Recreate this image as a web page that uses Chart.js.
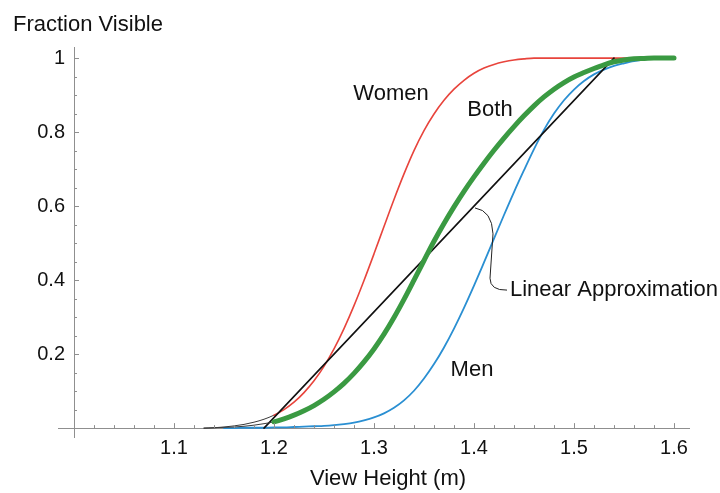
<!DOCTYPE html>
<html>
<head>
<meta charset="utf-8">
<script src="https://cdn.jsdelivr.net/npm/chart.js@4.4.1/dist/chart.umd.min.js"></script>
<style>
  html, body { margin: 0; padding: 0; background: #fff; }
  #wrap { width: 720px; height: 493px; position: relative; }
</style>
</head>
<body>
<div id="wrap"><canvas id="chart"></canvas></div>
<script>
// view height (m), shared by the three curves
const heights = [
  1.13, 1.14, 1.15, 1.16, 1.17, 1.18, 1.19, 1.20, 1.21, 1.22, 1.23, 1.24,
  1.25, 1.26, 1.27, 1.28, 1.29, 1.30, 1.31, 1.32, 1.33, 1.34, 1.35, 1.36,
  1.37, 1.38, 1.39, 1.40, 1.41, 1.42, 1.43, 1.44, 1.45, 1.46, 1.47, 1.48,
  1.49, 1.50, 1.51, 1.52, 1.53, 1.54, 1.55, 1.56, 1.57, 1.58, 1.59, 1.60
];
const women = [
  0.000, 0.001, 0.003, 0.006, 0.010, 0.016, 0.024, 0.035, 0.050, 0.070, 0.096, 0.128,
  0.167, 0.214, 0.269, 0.331, 0.399, 0.471, 0.545, 0.618, 0.687, 0.750, 0.804, 0.849,
  0.886, 0.916, 0.940, 0.959, 0.973, 0.983, 0.990, 0.995, 0.998, 1.0, 1.0, 1.0,
  1.0, 1.0, 1.0, 1.0, 1.0, 1.0, 1.0, 1.0, 1.0, null, null, null
];
const men = [
  null, null, 0.000, 0.000, 0.001, 0.001, 0.001, 0.002, 0.002, 0.003, 0.004, 0.005,
  0.006, 0.008, 0.011, 0.015, 0.021, 0.029, 0.040, 0.055, 0.075, 0.101, 0.134, 0.173,
  0.218, 0.269, 0.325, 0.385, 0.448, 0.512, 0.576, 0.638, 0.697, 0.754, 0.806, 0.850,
  0.886, 0.915, 0.938, 0.956, 0.969, 0.979, 0.986, 0.992, 0.996, 0.998, 0.999, 1.0
];
const both = [
  0.000, 0.001, 0.002, 0.003, 0.005, 0.008, 0.012, 0.017, 0.025, 0.035, 0.047, 0.061,
  0.078, 0.098, 0.121, 0.148, 0.179, 0.214, 0.254, 0.299, 0.348, 0.400, 0.453, 0.505,
  0.553, 0.598, 0.640, 0.679, 0.716, 0.751, 0.784, 0.815, 0.844, 0.871, 0.895, 0.916,
  0.934, 0.949, 0.961, 0.972, 0.982, 0.990, 0.995, 0.998, 0.999, 1.0, 1.0, 1.0
];
const linearX = [1.19, 1.54];
const linearY = [0, 1];

const xTickLabels = [1.1, 1.2, 1.3, 1.4, 1.5, 1.6];
const yTickLabels = [0.2, 0.4, 0.6, 0.8, 1];

const FONT = '"Liberation Sans", Arial, Helvetica, sans-serif';
const AXIS = '#8f8f8f';
const TAIL = '#3a3a3a';

const pts = (xs, ys) => xs.map((x, i) => ({ x: x, y: ys[i] }));
const isMajor = (v, list) => list.some((m) => Math.abs(m - v) < 1e-6);
const tail = (w) => ({
  borderColor: (ctx) => (ctx.p1.parsed.x <= 1.2001 ? TAIL : undefined),
  borderWidth: (ctx) => (ctx.p1.parsed.x <= 1.2001 ? 1 : w),
});

// minor tick positions
const xMinor = [];
for (let i = 0; i <= 30; i++) xMinor.push(+(1 + i * 0.02).toFixed(2));
const yMinor = [];
for (let i = 0; i <= 20; i++) yMinor.push(+(i * 0.05).toFixed(2));

const extras = {
  id: 'extras',
  afterDatasetsDraw(chart) {
    const { ctx, scales: { x, y } } = chart;
    const x0 = x.getPixelForValue(1);
    const y0 = y.getPixelForValue(0);
    ctx.save();
    // tick marks pointing into the plot
    ctx.strokeStyle = AXIS;
    ctx.lineWidth = 1;
    ctx.beginPath();
    x.ticks.forEach((t) => {
      const px = Math.round(x.getPixelForValue(t.value)) + 0.5;
      const len = isMajor(t.value, xTickLabels) ? 5 : 3;
      ctx.moveTo(px, y0);
      ctx.lineTo(px, y0 - len);
    });
    y.ticks.forEach((t) => {
      const py = Math.round(y.getPixelForValue(t.value)) + 0.5;
      const len = isMajor(t.value, yTickLabels) ? 5 : 3;
      ctx.moveTo(x0, py);
      ctx.lineTo(x0 + len, py);
    });
    ctx.stroke();

    // y tick labels, right aligned left of the axis
    ctx.fillStyle = '#111';
    ctx.font = '20px ' + FONT;
    ctx.textAlign = 'right';
    ctx.textBaseline = 'middle';
    y.ticks.forEach((t) => {
      if (!isMajor(t.value, yTickLabels)) return;
      ctx.fillText(String(+t.value.toFixed(2)), x0 - 9, y.getPixelForValue(t.value));
    });

    // leader for the linear approximation label
    const P = (a, b) => [x.getPixelForValue(a), y.getPixelForValue(b)];
    const s = P(1.401, 0.595), c1 = P(1.418, 0.588), e1 = P(1.419, 0.525);
    const e2 = P(1.416, 0.405), c2 = P(1.416, 0.372), e3 = P(1.433, 0.373);
    ctx.strokeStyle = '#222';
    ctx.beginPath();
    ctx.moveTo(s[0], s[1]);
    ctx.quadraticCurveTo(c1[0], c1[1], e1[0], e1[1]);
    ctx.lineTo(e2[0], e2[1]);
    ctx.quadraticCurveTo(c2[0], c2[1], e3[0], e3[1]);
    ctx.stroke();

    // curve labels
    ctx.font = '22px ' + FONT;
    ctx.textAlign = 'center';
    ctx.fillText('Women', x.getPixelForValue(1.317), y.getPixelForValue(0.903));
    ctx.fillText('Both', x.getPixelForValue(1.416), y.getPixelForValue(0.86));
    ctx.fillText('Men', x.getPixelForValue(1.398), y.getPixelForValue(0.157));
    ctx.textAlign = 'left';
    ctx.fillText('Linear Approximation', x.getPixelForValue(1.436), y.getPixelForValue(0.373));

    // axis titles
    ctx.fillText('Fraction Visible', 13, 25);
    ctx.textAlign = 'center';
    ctx.fillText('View Height (m)', 388, 479);
    ctx.restore();
  },
};

new Chart(document.getElementById('chart'), {
  type: 'scatter',
  data: {
    datasets: [
      {
        label: 'Both',
        data: pts(heights, both),
        borderColor: '#3a9a42',
        borderWidth: 5,
        segment: tail(5),
      },
      {
        label: 'Linear Approximation',
        data: pts(linearX, linearY),
        borderColor: '#111',
        borderWidth: 1.6,
        cubicInterpolationMode: 'default',
        tension: 0,
      },
      {
        label: 'Men',
        data: pts(heights, men),
        borderColor: '#2a8fd2',
        borderWidth: 1.8,
      },
      {
        label: 'Women',
        data: pts(heights, women),
        borderColor: '#e8443c',
        borderWidth: 1.6,
        segment: tail(1.6),
      },
    ],
  },
  options: {
    responsive: true,
    maintainAspectRatio: false,
    animation: false,
    showLine: true,
    layout: { padding: { left: 58, right: 31, top: 47, bottom: 56 } },
    elements: {
      point: { radius: 0, hoverRadius: 0 },
      line: { cubicInterpolationMode: 'monotone', borderCapStyle: 'round' },
    },
    plugins: { legend: { display: false }, tooltip: { enabled: false } },
    scales: {
      x: {
        type: 'linear',
        min: 0.984,
        max: 1.615,
        position: { y: 0 },
        afterBuildTicks: (s) => { s.ticks = xMinor.map((v) => ({ value: v })); },
        grid: { display: true, drawOnChartArea: false, drawTicks: false },
        border: { display: true, color: AXIS, width: 1 },
        ticks: {
          autoSkip: false,
          maxRotation: 0,
          padding: 8,
          color: '#111',
          font: { family: FONT, size: 20 },
          callback: (v) => (isMajor(v, xTickLabels) ? (+v).toFixed(1) : ''),
        },
      },
      y: {
        type: 'linear',
        min: -0.024,
        max: 1.03,
        position: { x: 1 },
        afterBuildTicks: (s) => { s.ticks = yMinor.map((v) => ({ value: v })); },
        grid: { display: true, drawOnChartArea: false, drawTicks: false },
        border: { display: true, color: AXIS, width: 1 },
        ticks: { display: false, autoSkip: false },
      },
    },
  },
  plugins: [extras],
});
</script>
</body>
</html>
